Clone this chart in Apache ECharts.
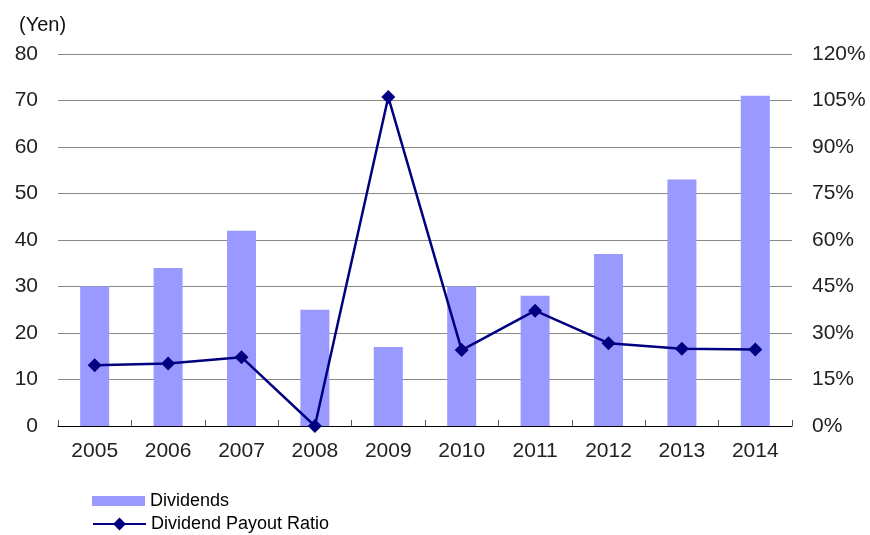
<!DOCTYPE html>
<html>
<head>
<meta charset="utf-8">
<script src="https://cdn.jsdelivr.net/npm/echarts@6/dist/echarts.min.js"></script>
<style>
  html, body { margin: 0; padding: 0; background: #fff; }
  #chart { width: 870px; height: 535px; }
</style>
</head>
<body>
<div id="chart"></div>
<script>
// data
var years = ['2005', '2006', '2007', '2008', '2009', '2010', '2011', '2012', '2013', '2014']
var dividends = [30, 34, 42, 25, 17, 30, 28, 37, 53, 71]
var payoutRatio = [19.6, 20.2, 22.2, 0, 106.1, 24.5, 37.2, 26.7, 24.9, 24.7]

var font = 'Liberation Sans, Arial, sans-serif'
var chart = echarts.init(document.getElementById('chart'))

// one legend per row, stacked under the chart
var legendCommon = {
  orient: 'vertical',
  left: 87,
  itemWidth: 53,
  itemHeight: 10,
  textStyle: { fontSize: 18, color: '#000', fontFamily: font }
}

chart.setOption({
  backgroundColor: '#fff',
  animation: false,
  textStyle: { fontFamily: font },
  title: {
    text: '(Yen)',
    left: 14,
    top: 10,
    textStyle: { fontSize: 20, fontWeight: 'normal', color: '#111', fontFamily: font }
  },
  grid: { left: 58, right: 78, top: 54, bottom: 109 },
  legend: [
    Object.assign({}, legendCommon, { top: 487, data: [{ name: 'Dividends', icon: 'rect' }] }),
    Object.assign({}, legendCommon, { top: 510, itemHeight: 16, data: ['Dividend Payout Ratio'] })
  ],
  xAxis: {
    type: 'category',
    data: years,
    axisLine: { lineStyle: { color: '#000', width: 1 } },
    axisTick: { show: true, inside: true, length: 6, lineStyle: { color: '#555' } },
    axisLabel: { fontSize: 21, color: '#222', margin: 15, fontFamily: font }
  },
  yAxis: [{
    type: 'value',
    min: 0,
    max: 80,
    interval: 10,
    axisLine: { show: false },
    axisTick: { show: false },
    axisLabel: { fontSize: 21, color: '#222', margin: 20, fontFamily: font },
    splitLine: { lineStyle: { color: '#888', width: 1 } }
  }, {
    type: 'value',
    min: 0,
    max: 120,
    interval: 15,
    axisLine: { show: false },
    axisTick: { show: false },
    axisLabel: { fontSize: 21, color: '#222', margin: 20, formatter: '{value}%', fontFamily: font },
    splitLine: { show: false }
  }],
  series: [{
    name: 'Dividends',
    type: 'bar',
    yAxisIndex: 0,
    barWidth: 29,
    itemStyle: { color: '#9999FF' },
    data: dividends
  }, {
    name: 'Dividend Payout Ratio',
    type: 'line',
    yAxisIndex: 1,
    symbol: 'diamond',
    symbolSize: 14,
    lineStyle: { color: '#000080', width: 2.5 },
    itemStyle: { color: '#000080' },
    data: payoutRatio
  }]
})
</script>
</body>
</html>
